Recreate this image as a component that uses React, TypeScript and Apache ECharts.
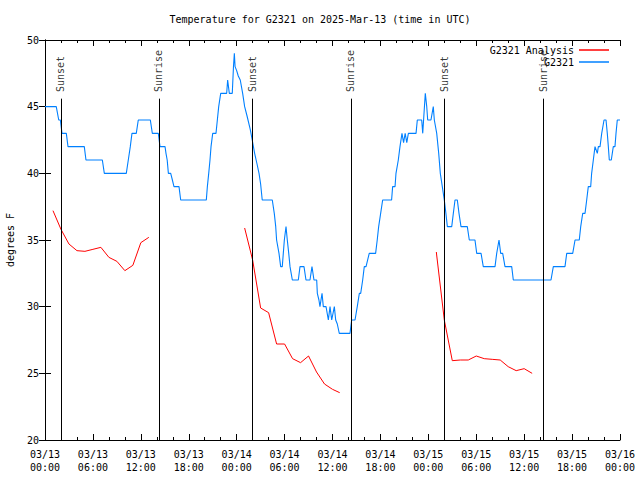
import React, { useEffect, useRef } from "react";
import * as echarts from "echarts";

const FONT = "'DejaVu Sans Mono', monospace";
const TITLE = "Temperature for G2321 on 2025-Mar-13 (time in UTC)";
const Y_NAME = "degrees F";

// hours since 2025-03-13 00:00 UTC
const blueHours = [0, 1.41, 1.72, 1.92, 2.13, 2.67, 2.88, 4.92, 5.13, 7.18, 7.43, 10.18, 10.43, 10.68, 10.89, 11.43, 11.68, 13.19, 13.44, 14.19, 14.4, 15.03, 15.15, 15.3, 15.45, 15.74, 15.95, 16.15, 16.78, 16.99, 20.2, 20.33, 20.5, 20.66, 20.79, 21.0, 21.41, 21.58, 21.75, 22.0, 22.75, 22.87, 22.95, 23.08, 23.45, 23.6, 23.71, 23.8, 24.0, 24.2, 24.45, 24.75, 25.0, 25.3, 25.7, 25.95, 26.25, 26.55, 26.8, 27.0, 27.2, 28.46, 28.71, 28.89, 29.0, 29.3, 29.51, 29.71, 29.84, 29.97, 30.18, 30.34, 30.52, 30.68, 30.97, 31.72, 31.93, 32.43, 32.68, 33.18, 33.43, 33.68, 34.02, 34.1, 34.3, 34.43, 34.69, 34.85, 35.19, 35.48, 35.69, 35.9, 36.23, 36.4, 36.6, 36.85, 38.19, 38.4, 38.82, 39.1, 39.36, 39.53, 39.78, 39.98, 40.2, 40.6, 41.4, 41.6, 41.78, 42.03, 42.28, 43.4, 43.53, 43.83, 43.95, 44.24, 44.45, 44.7, 44.9, 45.1, 45.3, 45.5, 46.46, 46.62, 47.17, 47.3, 47.62, 47.8, 47.92, 48.33, 48.62, 48.75, 49.05, 49.3, 49.5, 49.75, 50.0, 50.2, 50.38, 50.93, 51.13, 51.34, 51.63, 51.84, 52.09, 52.88, 53.13, 53.84, 54.06, 54.6, 54.88, 56.35, 56.56, 56.85, 57.06, 57.31, 57.6, 58.44, 58.64, 63.36, 63.65, 65.11, 65.33, 66.08, 66.37, 66.9, 67.08, 67.33, 67.62, 67.83, 68.03, 68.33, 68.45, 68.66, 68.87, 69.16, 69.29, 69.5, 69.71, 70.0, 70.25, 70.41, 70.54, 70.66, 70.91, 71.16, 71.37, 71.5, 71.66, 72];
const blueTemps = [45, 45, 44, 44, 43, 43, 42, 42, 41, 41, 40, 40, 41, 42, 43, 43, 44, 44, 43, 43, 42, 42, 41.5, 41, 40, 40, 39.5, 39, 39, 38, 38, 39, 40, 41, 42, 43, 43, 44, 45, 46, 46, 47, 47, 46, 46, 48, 49, 48, 47.7, 47.3, 47, 46, 45, 44.3, 43.3, 42.5, 41.5, 40.7, 40, 39.2, 38, 38, 37, 36, 35, 34, 33, 33, 34, 35, 36, 35, 34, 33, 32, 32, 33, 33, 32, 32, 33, 32, 32, 31, 30.5, 30, 31, 30, 30, 29, 30, 29, 30, 29, 28.7, 28, 28, 29, 29, 30, 31, 31, 32, 33, 33, 34, 34, 35, 36, 37, 38, 38, 39, 39, 40, 41, 42, 43, 42.3, 43, 42.3, 43, 43, 44, 44, 43, 46, 45, 44, 44, 45, 44, 43, 41.5, 40, 39, 38, 37, 36, 36, 37, 38, 38, 37, 36, 36, 35, 35, 34, 34, 33, 33, 34, 35, 34, 34, 33, 33, 32, 32, 33, 33, 34, 34, 35, 35, 36, 37, 37, 38, 39, 39, 40, 41, 42, 41.5, 42, 42, 43, 44, 44, 43, 42, 41, 41, 42, 42, 43, 44, 44];

const analysisHours1 = [1, 2, 3, 4, 5, 6, 7, 8, 9, 10, 11, 12, 13];
const analysisTemps1 = [37.2, 35.8, 34.7, 34.2, 34.15, 34.3, 34.45, 33.7, 33.4, 32.7, 33.1, 34.8, 35.2];
const analysisHours2 = [25, 26, 27, 28, 29, 30, 31, 32, 33, 34, 35, 36, 36.9];
const analysisTemps2 = [35.9, 33.5, 29.9, 29.55, 27.2, 27.2, 26.1, 25.8, 26.3, 25.1, 24.2, 23.8, 23.55];
const analysisHours3 = [49, 50, 51, 52, 53, 54, 55, 56, 57, 58, 59, 60, 61];
const analysisTemps3 = [34.1, 29.0, 25.95, 26.0, 26.0, 26.3, 26.1, 26.05, 26.0, 25.5, 25.2, 25.35, 25.0];

const sunHours = [2.0, 14.27, 25.98, 38.3, 50.0, 62.36];
const sunLabels = ["Sunset", "Sunrise", "Sunset", "Sunrise", "Sunset", "Sunrise"];
const SUN_LINE_TOP = 45.6;
const SUN_LABEL_BASE = 46.1;

const zip = (xs: number[], ys: number[]) => xs.map((x, i) => [x, ys[i]]);

function fmtTick(h: number) {
  const day = 13 + Math.floor(h / 24);
  const hh = Math.round(h % 24);
  return `03/${String(day).padStart(2, "0")}\n${String(hh).padStart(2, "0")}:00`;
}

export default function App() {
  const ref = useRef<HTMLDivElement>(null);
  useEffect(() => {
    if (!ref.current) return;
    const chart = echarts.init(ref.current, undefined, { renderer: "svg" });
    const black = "#000";
    const txt = { fontFamily: FONT, fontSize: 10, color: black };
    const analysisData: any[] = [
      ...zip(analysisHours1, analysisTemps1),
      [20, "-"],
      ...zip(analysisHours2, analysisTemps2),
      [45, "-"],
      ...zip(analysisHours3, analysisTemps3),
    ];
    const xCommon = {
      type: "value",
      min: 0,
      max: 72,
      interval: 6,
      axisLine: { show: true, lineStyle: { color: black, width: 1 } },
      axisTick: { show: true, inside: true, length: 6, lineStyle: { color: black } },
      minorTick: { show: true, splitNumber: 3, length: 3, lineStyle: { color: black } },
      splitLine: { show: false },
    };
    const yCommon = {
      type: "value",
      min: 20,
      max: 50,
      interval: 5,
      axisLine: { show: true, lineStyle: { color: black, width: 1 } },
      axisTick: { show: true, inside: true, length: 6, lineStyle: { color: black } },
      splitLine: { show: false },
    };
    chart.setOption({
      animation: false,
      backgroundColor: "#fff",
      textStyle: { fontFamily: FONT },
      title: {
        text: TITLE,
        left: "center",
        top: 9,
        textStyle: { ...txt, fontWeight: "normal" },
      },
      legend: {
        orient: "vertical",
        right: 26,
        top: 40,
        align: "right",
        itemWidth: 30,
        itemHeight: 1.5,
        itemGap: 2,
        selectedMode: false,
        textStyle: txt,
        data: [
          { name: "G2321 Analysis", icon: "rect" },
          { name: "G2321", icon: "rect" },
        ],
      },
      grid: { left: 45, right: 20, top: 40, bottom: 40, containLabel: false, outerBoundsMode: "none" },
      xAxis: [
        {
          ...xCommon,
          position: "bottom",
          axisLabel: { ...txt, lineHeight: 13, margin: 8, formatter: (v: number) => fmtTick(v) },
        },
        { ...xCommon, position: "top", axisLabel: { show: false } },
      ],
      yAxis: [
        {
          ...yCommon,
          position: "left",
          name: Y_NAME,
          nameLocation: "middle",
          nameGap: 30,
          nameRotate: 90,
          nameTextStyle: txt,
          axisLabel: { ...txt, margin: 6 },
        },
        { ...yCommon, position: "right", axisLabel: { show: false } },
      ],
      series: [
        {
          name: "G2321 Analysis",
          type: "line",
          data: analysisData,
          showSymbol: false,
          symbol: "none",
          connectNulls: false,
          lineStyle: { color: "#ff0000", width: 1 },
          itemStyle: { color: "#ff0000" },
          z: 3,
        },
        {
          name: "G2321",
          type: "line",
          data: zip(blueHours, blueTemps),
          showSymbol: false,
          symbol: "none",
          lineStyle: { color: "#0080ff", width: 1.1 },
          itemStyle: { color: "#0080ff" },
          z: 4,
          markLine: {
            silent: true,
            symbol: ["none", "none"],
            label: { show: false },
            lineStyle: { color: black, width: 1, type: "solid" },
            data: sunHours.map((h) => [{ coord: [h, 20] }, { coord: [h, SUN_LINE_TOP] }]),
          },
        },
        {
          name: "sun",
          type: "scatter",
          data: sunHours.map((h, i) => ({ value: [h, SUN_LABEL_BASE], name: sunLabels[i] })),
          symbolSize: 1,
          itemStyle: { color: "rgba(0,0,0,0)" },
          silent: true,
          label: {
            show: true,
            position: "inside",
            rotate: 90,
            align: "left",
            verticalAlign: "middle",
            formatter: (p: any) => p.name,
            ...txt,
          },
          z: 5,
        },
      ],
    });
    return () => chart.dispose();
  }, []);
  return <div ref={ref} style={{ width: 640, height: 480, position: "absolute", left: 0, top: 0 }} />;
}
